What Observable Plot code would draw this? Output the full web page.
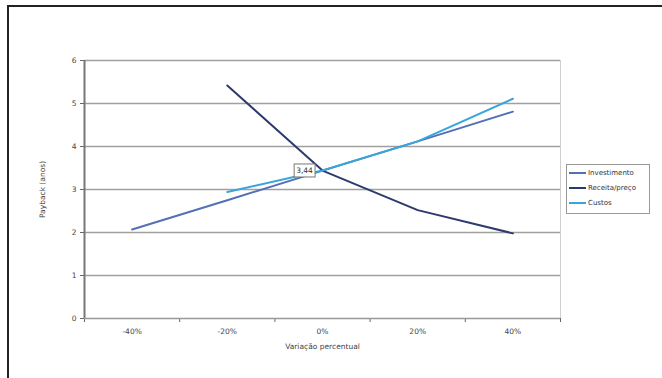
<!DOCTYPE html>
<html><head><meta charset="utf-8">
<script src="https://cdn.jsdelivr.net/npm/d3@7"></script>
<script src="https://cdn.jsdelivr.net/npm/@observablehq/plot@0.6"></script>
<style>
html,body{margin:0;padding:0;background:#fff;}
#wrap{position:relative;width:662px;height:378px;overflow:hidden;font-family:"DejaVu Sans",sans-serif;}
#frame{position:absolute;left:7px;top:5px;width:660px;height:380px;border-top:2px solid #222;border-left:2px solid #222;}
#legend{position:absolute;left:566px;top:164px;width:82px;height:48px;border:1px solid #999;background:#fff;font-size:7px;color:#333;}
#legend div{height:15px;display:flex;align-items:center;}
#legend span.sw{display:inline-block;width:17px;height:2px;margin:0 2px 0 2px;}
svg{position:absolute;left:0;top:0;}
</style></head>
<body><div id="wrap"><div id="frame"></div><div id="chart"></div><div id="legend"></div></div>
<script>
const categories = ["-40%","-20%","0%","20%","40%"];
const xValues = [-40,-20,0,20,40];
const seriesNames = ["Investimento","Receita/preço","Custos"];
const investimento = [2.07,2.75,3.44,4.12,4.81];
const receita = [null,5.42,3.44,2.52,1.98];
const custos = [null,2.94,3.44,4.12,5.11];
const colors = ["#5470b4","#2e3a6c","#3aa5da"];
const yTicks = [0,1,2,3,4,5,6];
const boundaries = [-50,-30,-10,10,30,50];
const labelValue = "3,44";

const all = [investimento, receita, custos];
const data = [];
all.forEach((vals,i)=>vals.forEach((v,j)=>{ if(v!=null) data.push({serie:seriesNames[i], x:xValues[j], y:v}); }));

const plot = Plot.plot({
  width:662, height:378,
  marginLeft:84, marginRight:102, marginTop:60, marginBottom:60,
  style:{fontFamily:"DejaVu Sans, sans-serif", fontSize:"7.5px", color:"#444", background:"transparent"},
  x:{domain:[-50,50]},
  y:{domain:[0,6]},
  color:{domain:seriesNames, range:colors},
  marks:[
    Plot.ruleY(yTicks.slice(1), {stroke:"#a0a0a0", strokeWidth:1.5}),
    Plot.ruleX([50], {stroke:"#cfcfcf", strokeWidth:1}),
    Plot.axisY({ticks:yTicks, tickSize:4, tickPadding:4, tickFormat:d=>String(d), stroke:"#666",
      label:"Payback (anos)", labelAnchor:"center", labelArrow:"none", labelOffset:45}),
    Plot.axisX({ticks:boundaries, tickSize:4, tickFormat:()=>"", label:null, stroke:"#666"}),
    Plot.axisX({ticks:xValues, tickSize:0, tickPadding:10, tickFormat:(d)=>categories[xValues.indexOf(d)],
      label:"Variação percentual", labelAnchor:"center", labelArrow:"none", labelOffset:30}),
    Plot.ruleX([-50], {stroke:"#777", strokeWidth:2}),
    Plot.ruleY([0], {stroke:"#999", strokeWidth:1.5}),
    Plot.line(data, {x:"x", y:"y", z:"serie", stroke:"serie", strokeWidth:2, curve:"linear"}),
    Plot.text([{x:0, y:receita[2]}], {x:"x", y:"y", text:()=>labelValue, dx:-18, fill:"#333", fontSize:7.5, className:"vlabel"})
  ]
});
document.getElementById("chart").appendChild(plot);

// box around the data label
const t = plot.querySelector(".vlabel text");
if (t) {
  const b = t.getBBox();
  const r = document.createElementNS("http://www.w3.org/2000/svg","rect");
  r.setAttribute("x", b.x-2); r.setAttribute("y", b.y-2);
  r.setAttribute("width", b.width+4); r.setAttribute("height", b.height+4);
  r.setAttribute("fill","#fff"); r.setAttribute("stroke","#777");
  r.setAttribute("transform", t.getAttribute("transform")||"");
  t.parentNode.insertBefore(r, t);
}

const leg = document.getElementById("legend");
seriesNames.forEach((n,i)=>{
  const d = document.createElement("div");
  d.innerHTML = `<span class="sw" style="background:${colors[i]}"></span>${n}`;
  leg.appendChild(d);
});
</script></body></html>
